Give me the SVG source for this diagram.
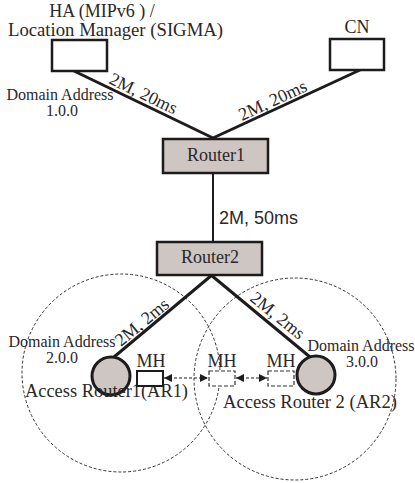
<svg xmlns="http://www.w3.org/2000/svg" width="415" height="483" viewBox="0 0 415 483">
<style>
text{font-family:"Liberation Serif","Times New Roman",serif;fill:#2b2728}
.t18{font-size:18px}
.t16{font-size:16px}
.sans{font-family:"Liberation Sans",Arial,sans-serif}
.link{stroke:#1e1b1c;stroke-width:3;fill:none}
.box{fill:#fff;stroke:#1e1b1c;stroke-width:2.5}
.router{fill:#cdc6c3;stroke:#1e1b1c;stroke-width:2.5}
.ar{fill:#cdc6c3;stroke:#1e1b1c;stroke-width:3}
.cell{fill:none;stroke:#333;stroke-width:1;stroke-dasharray:3 2}
.ghost{fill:#fff;stroke:#333;stroke-width:1.2;stroke-dasharray:4 2}
.move{stroke:#1e1b1c;stroke-width:1.2;stroke-dasharray:3 2;fill:none}
</style>
<defs>
<marker id="ah" viewBox="0 0 10 10" refX="10" refY="5" markerWidth="8" markerHeight="8" markerUnits="userSpaceOnUse" orient="auto-start-reverse">
<path d="M0,0 L10,5 L0,10 Z" fill="#1e1b1c"/>
</marker>
</defs>
<g id="cells">
<circle class="cell" cx="121" cy="373" r="99"/>
<circle class="cell" cx="295" cy="379" r="101"/>
</g>
<g id="connectors">
<line class="link" x1="74" y1="71" x2="213" y2="138"/>
<line class="link" x1="360" y1="70" x2="213" y2="138"/>
<line class="link" x1="213" y1="173" x2="213" y2="242" style="stroke-width:2"/>
<line class="link" x1="212" y1="275" x2="114" y2="357"/>
<line class="link" x1="211" y1="275" x2="310" y2="357"/>
<line class="move" x1="164" y1="378" x2="208" y2="378" marker-start="url(#ah)" marker-end="url(#ah)"/>
<line class="move" x1="236" y1="378" x2="267" y2="378" marker-start="url(#ah)" marker-end="url(#ah)"/>
<text class="t18" transform="translate(108,83) rotate(25.7)">2M, 20ms</text>
<text class="t18" transform="translate(242,121) rotate(-24.8)">2M, 20ms</text>
<text class="t18 sans" x="219" y="224">2M, 50ms</text>
<text class="t18" transform="translate(121,347) rotate(-39.6)">2M, 2ms</text>
<text class="t18" transform="translate(249,300) rotate(38.7)">2M, 2ms</text>
</g>
<g id="ha">
<rect class="box" x="52" y="40" width="55" height="31"/>
<text class="t18" x="102" y="17" text-anchor="middle">HA (MIPv6 ) /</text>
<text class="t18" x="8" y="36" textLength="215" lengthAdjust="spacingAndGlyphs">Location Manager (SIGMA)</text>
<text class="t16" x="60" y="100" text-anchor="middle">Domain Address</text>
<text class="t16" x="62" y="116" text-anchor="middle">1.0.0</text>
</g>
<g id="cn">
<rect class="box" x="330" y="39" width="54" height="31"/>
<text class="t18" x="357" y="33" text-anchor="middle">CN</text>
</g>
<g id="router1">
<rect class="router" x="163" y="139" width="105" height="34"/>
<text class="t18" x="216" y="161" text-anchor="middle">Router1</text>
</g>
<g id="router2">
<rect class="router" x="157" y="242" width="105" height="33"/>
<text class="t18" x="210" y="263" text-anchor="middle">Router2</text>
</g>
<g id="ar1">
<circle class="ar" cx="111" cy="376" r="19"/>
<text class="t16" x="62" y="347" text-anchor="middle">Domain Address</text>
<text class="t16" x="62" y="363" text-anchor="middle">2.0.0</text>
<text class="t18" x="25" y="397" textLength="163" lengthAdjust="spacingAndGlyphs">Access Router1(AR1)</text>
</g>
<g id="ar2">
<circle class="ar" cx="316" cy="375" r="19"/>
<text class="t16" x="361" y="351" text-anchor="middle">Domain Address</text>
<text class="t16" x="362" y="367" text-anchor="middle">3.0.0</text>
<text class="t18" x="223" y="408" textLength="174" lengthAdjust="spacingAndGlyphs">Access Router 2 (AR2)</text>
</g>
<g id="mh1">
<rect class="box" x="137" y="371" width="26" height="15" style="stroke-width:2"/>
<text class="t18" x="151" y="367" text-anchor="middle">MH</text>
</g>
<g id="mh2">
<rect class="ghost" x="209" y="371" width="26" height="15"/>
<text class="t18" x="222" y="367" text-anchor="middle">MH</text>
</g>
<g id="mh3">
<rect class="ghost" x="268" y="371" width="26" height="15"/>
<text class="t18" x="281" y="367" text-anchor="middle">MH</text>
</g>
</svg>
